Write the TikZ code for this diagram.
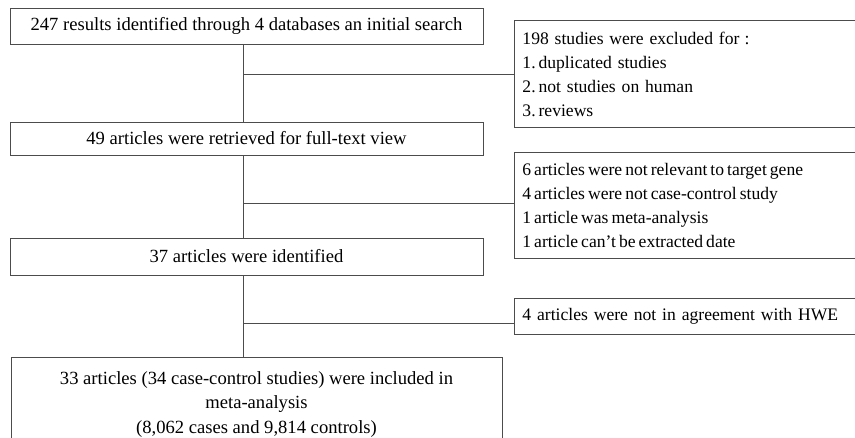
\documentclass[tikz,border=0pt]{standalone}
\usepackage{fontspec}
\setmainfont{Liberation Serif}
\newcommand{\tightspaces}{\spaceskip=3pt plus 1pt minus 0.5pt\relax}
\begin{document}
\begin{tikzpicture}[x=1pt,y=-1pt,
  box/.style={draw=black!70, line width=0.9pt, rectangle, inner sep=0pt, fill=white},
  lfont/.style={font=\fontsize{18.6}{24.5}\selectfont},
  rfont/.style={font=\fontsize{17.6}{24}\selectfont},
  rbox/.style={box, rfont, anchor=north west, align=left, text width=330pt, minimum width=346pt, inner xsep=7pt},
  conn/.style={draw=black!70, line width=0.9pt}]
\useasboundingbox (0,0) rectangle (855,437);
\begin{scope}
\clip (0,0) rectangle (855,437);
% left column boxes
\node[box, lfont, minimum width=473pt, minimum height=36pt] (b1) at (246.5,26) {247 results identified through 4 databases an initial search};
\node[box, lfont, minimum width=473pt, minimum height=33pt] (b3) at (246.5,138.5) {49 articles were retrieved for full-text view};
\node[box, lfont, minimum width=473pt, minimum height=37pt] (b5) at (246.5,256.5) {37 articles were identified};
\node[box, minimum width=491pt, minimum height=110pt, anchor=north west] (b7) at (11,357) {};
\node[lfont, align=center, inner sep=0pt, anchor=north] (t7) at (256.5,371)
  {33 articles (34 case-control studies) were included in\\ meta-analysis\\ (8,062 cases and 9,814 controls)};
% right column boxes
\node[rbox, minimum height=107pt] (b2) at (514,20)
  {198 studies were excluded for\kern0.3em:\\1.\,duplicated studies\\2.\,not studies on human\\3.\,reviews};
\node[rbox, minimum height=106pt] (b4) at (514,152)
  {\tightspaces 6 articles were not relevant to target gene\\4 articles were not case-control study\\1 article was meta-analysis\\1 article can’t be extracted date};
\node[rbox, minimum height=36pt] (b6) at (514,298)
  {4 articles were not in agreement with HWE};
% junctions
\coordinate (j1) at (243,74);
\coordinate (j2) at (243,203);
\coordinate (j3) at (243,323);
\draw[conn] (j1 |- b1.south) -- (j1 |- b3.north);
\draw[conn] (j1) -- (j1 -| b2.west);
\draw[conn] (j2 |- b3.south) -- (j2 |- b5.north);
\draw[conn] (j2) -- (j2 -| b4.west);
\draw[conn] (j3 |- b5.south) -- (j3 |- b7.north);
\draw[conn] (j3) -- (j3 -| b6.west);
\end{scope}
\end{tikzpicture}
\end{document}
